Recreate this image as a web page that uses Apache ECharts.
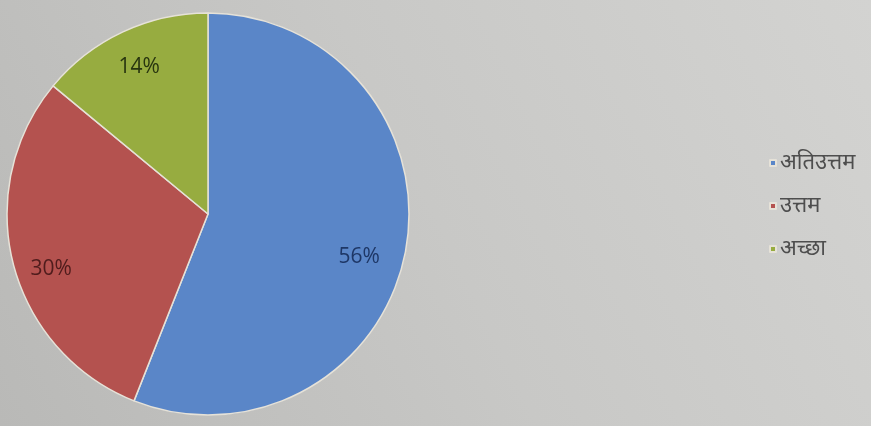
<!DOCTYPE html>
<html><head><meta charset="utf-8">
<script src="https://cdn.jsdelivr.net/npm/echarts@6/dist/echarts.min.js"></script>
<style>html,body{margin:0;padding:0;}#c{width:871px;height:426px;}</style>
</head><body><div id="c"></div>
<script>
var categories = ['अतिउत्तम', 'उत्तम', 'अच्छा'];
var values = [56, 30, 14];
var sliceColors = ['#5a86c8', '#b4524f', '#97ac40'];
var labelColors = ['#1e3766', '#4f1c1c', '#28350f'];
var labelOffsets = [[-10, 12], [2, 14], [1, 1]];

var chart = echarts.init(document.getElementById('c'));
var data = categories.map(function (n, i) {
  return { name: n, value: values[i], itemStyle: { color: sliceColors[i] } };
});
var labelData = categories.map(function (n, i) {
  return { name: n, value: values[i], label: { color: labelColors[i], offset: labelOffsets[i] } };
});
chart.setOption({
  backgroundColor: {
    type: 'linear', x: 0, y: 1, x2: 1, y2: 0,
    colorStops: [{ offset: 0, color: '#b9b9b7' }, { offset: 0.5, color: '#c8c8c6' }, { offset: 1, color: '#d3d3d1' }]
  },
  legend: {
    orient: 'vertical', left: 764, top: 147,
    icon: 'rect', itemWidth: 6, itemHeight: 6, itemGap: 21,
    data: categories,
    textStyle: { fontSize: 22, color: '#4e4e4e', fontFamily: 'Noto Sans, sans-serif', padding: [0, 0, 0, -1] }
  },
  series: [{
    type: 'pie', center: [208, 214], radius: [0, 201],
    startAngle: 90, clockwise: true, silent: true,
    label: { show: false }, labelLine: { show: false },
    itemStyle: { borderColor: '#e6e2d8', borderWidth: 1.5 },
    data: data
  }, {
    type: 'pie', center: [208, 214], radius: [121, 201],
    startAngle: 90, clockwise: true, silent: true,
    itemStyle: { color: 'rgba(0,0,0,0)' },
    label: { show: true, position: 'inside', formatter: '{c}%', fontSize: 21, fontFamily: 'Open Sans, sans-serif' },
    labelLine: { show: false },
    data: labelData
  }]
});
</script></body></html>
